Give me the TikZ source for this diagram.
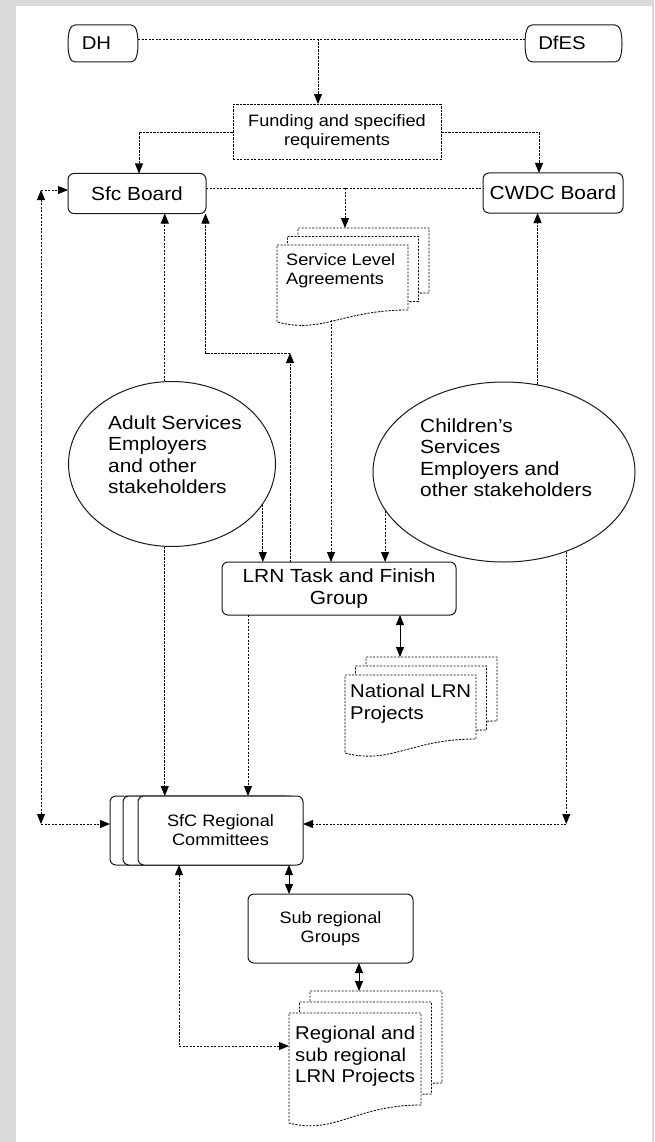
\documentclass[tikz,border=0pt]{standalone}
\usepackage{fontspec}
\setmainfont{Liberation Sans}[FakeStretch=1.1]
\usetikzlibrary{arrows.meta,shapes.geometric,shapes.misc,calc}
\tikzset{
  ln/.style={line width=0.85pt, draw=black},
  dl/.style={ln, dash pattern=on 2.2pt off 1.3pt},
  box/.style={draw=black!90, line width=1pt, rounded corners=6pt, fill=white, inner sep=0pt, outer sep=0pt},
  big/.style={font=\fontsize{19}{21.5}\selectfont},
  mid/.style={font=\fontsize{18.5}{21.5}\selectfont},
  med/.style={font=\fontsize{16.5}{19}\selectfont},
  pillb/.style={draw=none, minimum height=37pt, inner sep=0pt, outer sep=0pt},
  ell/.style={draw=black!90, line width=1pt, ellipse, inner sep=0pt},
  docb/.style={draw=none, inner sep=0pt, outer sep=0pt},
  txt/.style={inner sep=0pt, align=left, anchor=north west},
}
\newcommand\mypill[1]{%
  \draw[draw=black!90, line width=1pt]
    ($(#1.north west)+(7,0)$) -- ($(#1.north east)+(-7,0)$)
    .. controls ($(#1.north east)+(-2,0)$) and ($(#1.east)+(0,-11)$) .. (#1.east)
    .. controls ($(#1.east)+(0,11)$) and ($(#1.south east)+(-2,0)$) .. ($(#1.south east)+(-7,0)$)
    -- ($(#1.south west)+(7,0)$)
    .. controls ($(#1.south west)+(2,0)$) and ($(#1.west)+(0,11)$) .. (#1.west)
    .. controls ($(#1.west)+(0,-11)$) and ($(#1.north west)+(2,0)$) .. cycle;}
\newcommand\mydocshape[2]{%
  \draw[dl, fill=white] (#1.north west) -- (#1.north east) -- (#1.south east)
    .. controls ($(#1.south east)!0.5!(#1.south west)$) and ($(#1.south east)!0.65!(#1.south west)+(0,#2+12)$)
    .. ($(#1.south west)+(0,#2)$) -- cycle;}
\newcommand\mydocstack[8]{%
  \node[docb, minimum width=#4pt, minimum height=#5pt] (#1-b) at ({#2+2*#6},{#3-2*#7}) {};
  \node[docb, minimum width=#4pt, minimum height=#5pt] (#1-m) at ({#2+#6},{#3-#7}) {};
  \node[docb, minimum width=#4pt, minimum height=#5pt] (#1-f) at (#2,#3) {};
  \mydocshape{#1-b}{#8}\mydocshape{#1-m}{#8}\mydocshape{#1-f}{#8}}
\begin{document}
\begin{tikzpicture}[x=1pt, y=-1pt, >={Triangle[length=10pt,width=8pt]}]
\useasboundingbox (0,0) rectangle (654,1142);
\fill[black!15] (0,0) rectangle (654,1142);
\fill[white] (16,6) rectangle (652,1142);

% top sources
\node[pillb, minimum width=70pt] (dh) at (103,43.5) {};
\mypill{dh}
\node[font=\fontsize{18.5}{21}\selectfont, inner sep=0pt] (dht) at (96.5,43) {DH};
\node[pillb, minimum width=97pt] (dfes) at (573.5,43.5) {};
\mypill{dfes}
\node[font=\fontsize{18.5}{21}\selectfont, inner sep=0pt] (dfest) at (562,42.5) {DfES};

\node[draw=black, line width=0.85pt, dash pattern=on 2.2pt off 1.3pt, minimum width=208pt, minimum height=55pt, med, align=center, inner sep=0pt] (fund) at (337,132) {Funding and specified\\requirements};

\node[box, big, minimum width=138pt, minimum height=40pt] (sfc) at (137,193.5) {Sfc Board};
\node[box, big, minimum width=140pt, minimum height=40pt] (cwdc) at (553,193) {CWDC Board};

% Service level agreements
\mydocstack{sla}{342.5}{277.5}{131}{65}{10.5}{8.5}{12}
\node[txt, med] (slat) at (286,253) {Service Level\\Agreements};

% ellipses
\node[ell, minimum width=207pt, minimum height=165pt] (adult) at (172,464) {};
\node[txt, big] (adultt) at (108,415.5) {Adult Services\\Employers\\and other\\stakeholders};
\node[ell, minimum width=262pt, minimum height=180pt] (child) at (504,472) {};
\node[txt, big] (childt) at (420,418.5) {Children's\\Services\\Employers and\\other stakeholders};

\node[box, big, align=center, minimum width=234pt, minimum height=53pt] (lrn) at (339,588.5) {LRN Task and Finish\\Group};

% National projects
\mydocstack{nat}{410.5}{707}{131}{64}{10.5}{9}{14}
\node[txt, mid] (natt) at (350,684) {National LRN\\Projects};

% regional committees
\node[box, minimum width=180pt, minimum height=69pt] (sfcr-b1) at (200,830.5) {};
\node[box, minimum width=173pt, minimum height=69pt] (sfcr-b2) at (209.5,830.5) {};
\node[box, med, align=center, minimum width=165pt, minimum height=69pt] (sfcr) at (220.5,830.5) {SfC Regional\\Committees};

\node[box, med, align=center, minimum width=165pt, minimum height=69pt] (sub) at (330.5,928.5) {Sub regional\\Groups};

\mydocstack{reg}{355}{1059}{132}{92}{10.5}{11}{18}
\node[txt, mid] (regt) at (295,1026) {Regional and\\sub regional\\LRN Projects};

% connectors
\coordinate (j1) at (318,39);
\draw[dl] ([yshift=4.5pt]dh.east) -- ([yshift=4.5pt]dfes.west);
\draw[dl,->] (j1) -- (j1 |- fund.north);
\draw[dl,->] (fund.west) -| ([xshift=2pt]sfc.north);
\draw[dl,->] (fund.east) -| ([xshift=-14pt]cwdc.north);
\coordinate (j3) at (345,188);
\draw[dl] ([yshift=5.5pt]sfc.east) -- ([yshift=5pt]cwdc.west);
\draw[dl,->] (j3) -- (j3 |- sla-b.north);
\draw[dl,->] (adult.95) -- (adult.95 |- sfc.south);
\draw[dl,->] (child.69) -- (child.69 |- cwdc.south);
\coordinate (c1) at (290,353);
\draw[dl,->] (lrn.north -| c1) -- (c1);
\draw[dl,->] (c1) -| ([xshift=-0.5pt]sfc.south east);
\coordinate (s1) at (331,320);
\draw[dl,->] (s1) -- (s1 |- lrn.north);
\draw[dl,->] (adult.-24.5) -- (adult.-24.5 |- lrn.north);
\draw[dl,->] (child.198) -- (child.198 |- lrn.north);
\coordinate (k1) at (400,640);
\draw[ln,<->] (lrn.south -| k1) -- (k1 |- nat-b.north);
\draw[dl,->] (adult.-95) -- (adult.-95 |- sfcr.north);
\coordinate (k2) at (248,700);
\draw[dl,->] (lrn.south -| k2) -- (k2 |- sfcr.north);
\coordinate (L1) at (41,190);
\coordinate (L2) at (41,824);
\draw[dl,<->] (L1) -- (L2);
\draw[dl,->] (L1) -- (L1 -| sfc.west);
\draw[dl,->] (L2) -- (L2 -| sfcr-b1.west);
\coordinate (R2) at (565,824);
\draw[dl,->] (child.-52.5) -- (child.-52.5 |- R2);
\draw[dl,->] (child.-52.5 |- R2) -- (R2 -| sfcr.east);
\coordinate (k3) at (289,880);
\draw[ln,<->] (sfcr.south -| k3) -- (k3 |- sub.north);
\coordinate (k4) at (359,980);
\draw[ln,<->] (sub.south -| k4) -- (k4 |- reg-b.north);
\coordinate (R3) at (179,1046);
\draw[dl,<->] (sfcr.south -| R3) -- (R3) -- (R3 -| reg-f.west);
\end{tikzpicture}
\end{document}
